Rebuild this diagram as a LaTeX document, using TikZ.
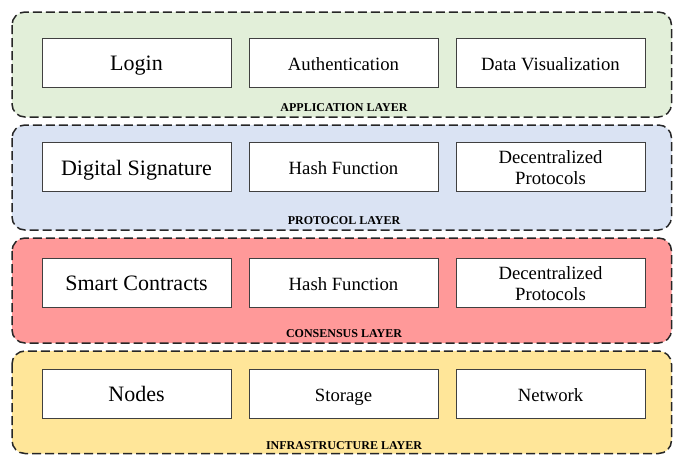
\documentclass[tikz,border=0pt]{standalone}
\usepackage{fontspec}
\setmainfont{Liberation Serif}
\begin{document}
\begin{tikzpicture}[x=1pt,y=-1pt,
  layerbox/.style={draw=black!85, line width=1.5pt, dash pattern=on 9pt off 4pt, rounded corners=13pt},
  boxbase/.style={draw=black!75, line width=0.9pt, fill=white, minimum width=189pt, minimum height=49pt, inner sep=0pt, align=center},
  item/.style={boxbase, font=\fontsize{18.7}{21}\selectfont, text height=20pt, text depth=5pt},
  bigitem/.style={boxbase, font=\fontsize{22}{26}\selectfont, text height=21.4pt, text depth=5pt},
  twoline/.style={boxbase, font=\fontsize{18.7}{21}\selectfont},
  layertitle/.style={font=\fontsize{12}{14}\selectfont\bfseries, inner sep=0pt, anchor=base}]
\useasboundingbox (0,0) rectangle (673,455);
\definecolor{appfill}{RGB}{226,239,217}
\definecolor{protfill}{RGB}{218,227,243}
\definecolor{consfill}{RGB}{255,153,153}
\definecolor{infrafill}{RGB}{255,230,153}
\newcommand{\toplift}{\rule{0pt}{15pt}}

% layer frames
\draw[layerbox, fill=appfill]   (12,12)  rectangle (671.5,117);
\draw[layerbox, fill=protfill]  (12,125) rectangle (671.5,230);
\draw[layerbox, fill=consfill]  (12,238) rectangle (671.5,343);
\draw[layerbox, fill=infrafill] (12,351) rectangle (671.5,453.5);

% application layer
\node[bigitem] (login) at (136.5,62.5) {Login};
\node[item] (auth) at (343.5,62.5) {Authentication};
\node[item] (dataviz) at (550.5,62.5) {Data Visualization};
\node[layertitle] (applbl) at (344,111.8) {APPLICATION LAYER};

% protocol layer
\node[bigitem] (digsig) at (136.5,167) {Digital Signature};
\node[item] (hashp) at (343.5,167) {Hash Function};
\node[twoline] (decp) at (550.5,167) {\toplift Decentralized\\Protocols};
\node[layertitle] (protlbl) at (344,224.8) {PROTOCOL LAYER};

% consensus layer
\node[bigitem] (smart) at (136.5,282.5) {Smart Contracts};
\node[item] (hashc) at (343.5,282.5) {Hash Function};
\node[twoline] (decc) at (550.5,282.5) {\toplift Decentralized\\Protocols};
\node[layertitle] (conslbl) at (344,337.8) {CONSENSUS LAYER};

% infrastructure layer
\node[bigitem] (nodes) at (136.5,393.5) {Nodes};
\node[item] (storage) at (343.5,393.5) {Storage};
\node[item] (network) at (550.5,393.5) {Network};
\node[layertitle] (infralbl) at (344,449) {INFRASTRUCTURE LAYER};
\end{tikzpicture}
\end{document}
